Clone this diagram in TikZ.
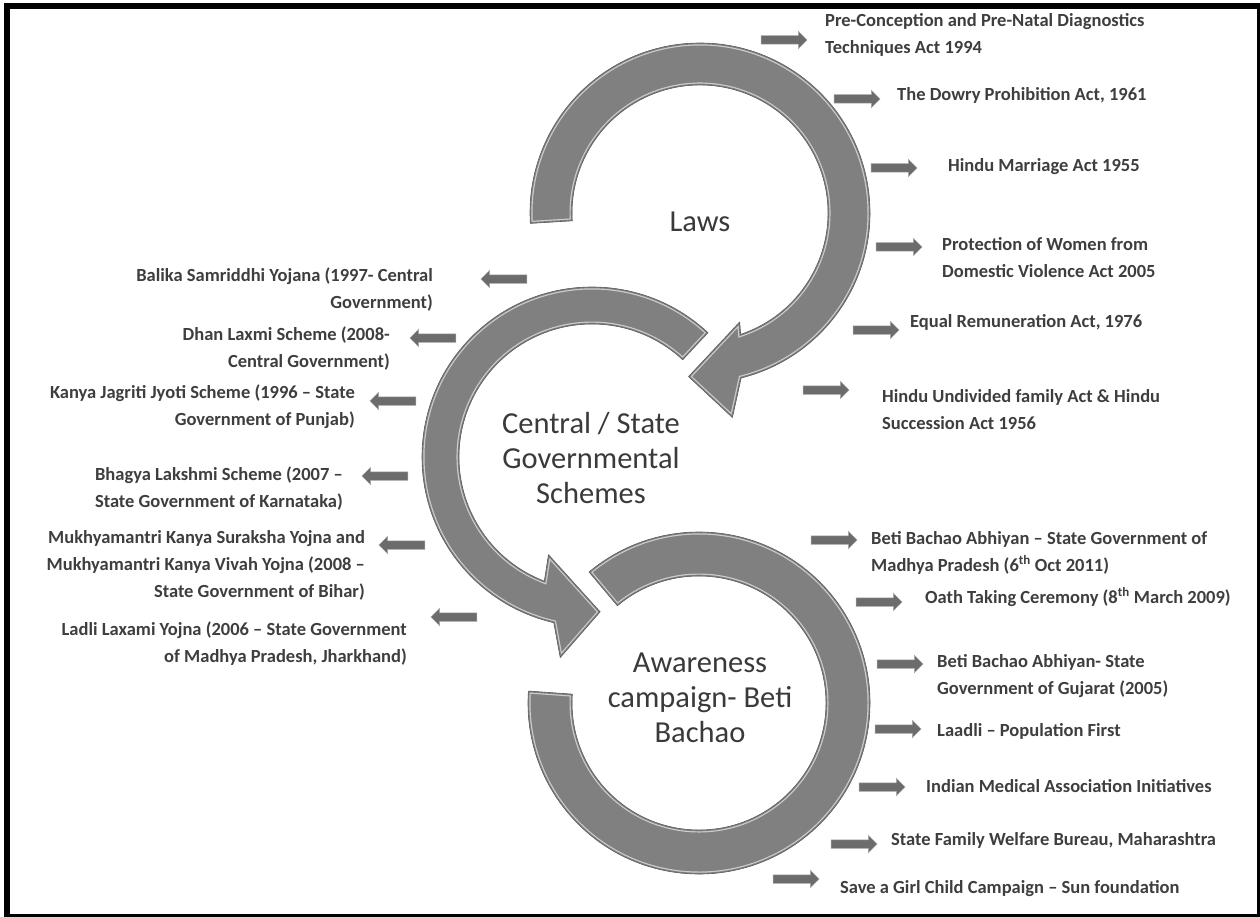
\documentclass[tikz,border=0pt]{standalone}
\usepackage{fontspec}
\setmainfont{Carlito}
\usetikzlibrary{shapes.arrows}
\definecolor{ringgray}{RGB}{128,128,128}
\definecolor{ringlight}{RGB}{205,205,205}
\definecolor{ringdark}{RGB}{95,95,95}
\definecolor{arrgray}{RGB}{108,108,108}
\definecolor{arredge}{RGB}{170,170,170}
\definecolor{txtgray}{RGB}{62,62,62}
\definecolor{lblgray}{RGB}{58,58,58}
\newcommand\LawsShape{(183.5:170pt) arc[start angle=183.5, end angle=-76, radius=170pt] -- (-81:207pt) -- (-94:164pt) -- (-70:116pt) -- (-71.5:128pt) arc[start angle=-71.5, end angle=183.5, radius=128pt] -- cycle}
\newcommand\CentralShape{(47:170pt) arc[start angle=47, end angle=257, radius=170pt] -- (261:203pt) -- (273:155pt) -- (246:107pt) -- (249:133pt) arc[start angle=249, end angle=47, radius=133pt] -- cycle}
\newcommand\AwareShape{(176:171pt) arc[start angle=176, end angle=490, radius=171pt] -- (490:127pt) arc[start angle=490, end angle=176, radius=127pt] -- cycle}
\newcommand\BevelRing[2]{%
  \begin{scope}[shift={#1}]
    \fill[ringgray] #2;
    \begin{scope}
      \clip #2;
      \draw[ringlight, line width=5pt] #2;
      \draw[ringgray, line width=2.6pt] #2;
    \end{scope}
    \draw[ringdark, line width=0.6pt] #2;
  \end{scope}}
\begin{document}
\begin{tikzpicture}[x=1pt,y=1pt,
  blk/.style={single arrow, single arrow head extend=4.5pt, minimum width=17pt, minimum height=46pt, inner sep=4pt, fill=arrgray, draw=arredge, line width=0.5pt},
  blkl/.style={blk, shape border rotate=180},
  itemr/.style={anchor=base west, align=left, inner sep=0pt, font=\bfseries\fontsize{18.5}{27}\selectfont, text=txtgray},
  iteml/.style={anchor=base east, align=right, inner sep=0pt, font=\bfseries\fontsize{18.5}{27}\selectfont, text=txtgray},
  ringlbl/.style={align=center, inner sep=0pt, font=\fontsize{30.5}{35}\selectfont, text=lblgray}]
\useasboundingbox (0,0) rectangle (1260,-917);
\fill[white] (0,0) rectangle (1260,-917);
\fill[black] (4,-3) rectangle (1260,-917);
\fill[white] (10,-9) rectangle (1257,-914);

% rings
\BevelRing{(700,-213)}{\LawsShape}
\BevelRing{(592,-457)}{\CentralShape}
\BevelRing{(699,-703)}{\AwareShape}

% ring labels
\node[ringlbl] (laws) at (700,-222) {Laws};
\node[ringlbl] (central) at (591,-458) {Central / State\\Governmental\\Schemes};
\node[ringlbl] (aware) at (700,-698) {Awareness\\campaign- Beti\\Bachao};

% Laws items
\node[blk] (r1) at (782,-40) {};
\node[blk] (r2) at (855,-99) {};
\node[blk] (r3) at (892,-168) {};
\node[blk] (r4) at (897,-247) {};
\node[blk] (r5) at (874,-330) {};
\node[blk] (r6) at (824,-390) {};
\node[itemr] (t1) at (825,-54) {Pre-Conception and Pre-Natal Diagnostics\\Techniques Act 1994};
\node[itemr] (t2) at (897,-101) {The Dowry Prohibition Act, 1961};
\node[itemr] (t3) at (948,-172) {Hindu Marriage Act 1955};
\node[itemr] (t4) at (942,-277) {Protection of Women from\\Domestic Violence Act 2005};
\node[itemr] (t5) at (910,-327) {Equal Remuneration Act, 1976};
\node[itemr] (t6) at (882,-429) {Hindu Undivided family Act \& Hindu\\Succession Act 1956};

% Central items
\node[blkl] (l1) at (506,-279) {};
\node[blkl] (l2) at (435,-338) {};
\node[blkl] (l3) at (395,-401) {};
\node[blkl] (l4) at (387,-476) {};
\node[blkl] (l5) at (404,-545) {};
\node[blkl] (l6) at (456,-617) {};
\node[iteml] (s1) at (433,-308) {Balika Samriddhi Yojana (1997- Central\\Government)};
\node[iteml] (s2) at (390,-367) {Dhan Laxmi Scheme (2008-\\Central Government)};
\node[iteml] (s3) at (355,-425) {Kanya Jagriti Jyoti Scheme (1996 -- State\\Government of Punjab)};
\node[iteml] (s4) at (343,-507) {Bhagya Lakshmi Scheme (2007 --\\State Government of Karnataka)};
\node[iteml] (s5) at (365,-597) {Mukhyamantri Kanya Suraksha Yojna and\\Mukhyamantri Kanya Vivah Yojna (2008 --\\State Government of Bihar)};
\node[iteml] (s6) at (407,-662) {Ladli Laxami Yojna (2006 -- State Government\\of Madhya Pradesh, Jharkhand)};

% Awareness items
\node[blk] (a1) at (832,-540) {};
\node[blk] (a2) at (877,-602) {};
\node[blk] (a3) at (898,-664) {};
\node[blk] (a4) at (896,-729) {};
\node[blk] (a5) at (880,-787) {};
\node[blk] (a6) at (852,-844) {};
\node[blk] (a7) at (794,-879) {};
\node[itemr] (b1) at (871,-571) {Beti Bachao Abhiyan -- State Government of\\Madhya Pradesh (6\textsuperscript{th} Oct 2011)};
\node[itemr] (b2) at (925,-603) {Oath Taking Ceremony (8\textsuperscript{th} March 2009)};
\node[itemr] (b3) at (937,-694) {Beti Bachao Abhiyan- State\\Government of Gujarat (2005)};
\node[itemr] (b4) at (937,-736) {Laadli -- Population First};
\node[itemr] (b5) at (926,-792) {Indian Medical Association Initiatives};
\node[itemr] (b6) at (891,-845) {State Family Welfare Bureau, Maharashtra};
\node[itemr] (b7) at (840,-893) {Save a Girl Child Campaign -- Sun foundation};
\end{tikzpicture}
\end{document}
